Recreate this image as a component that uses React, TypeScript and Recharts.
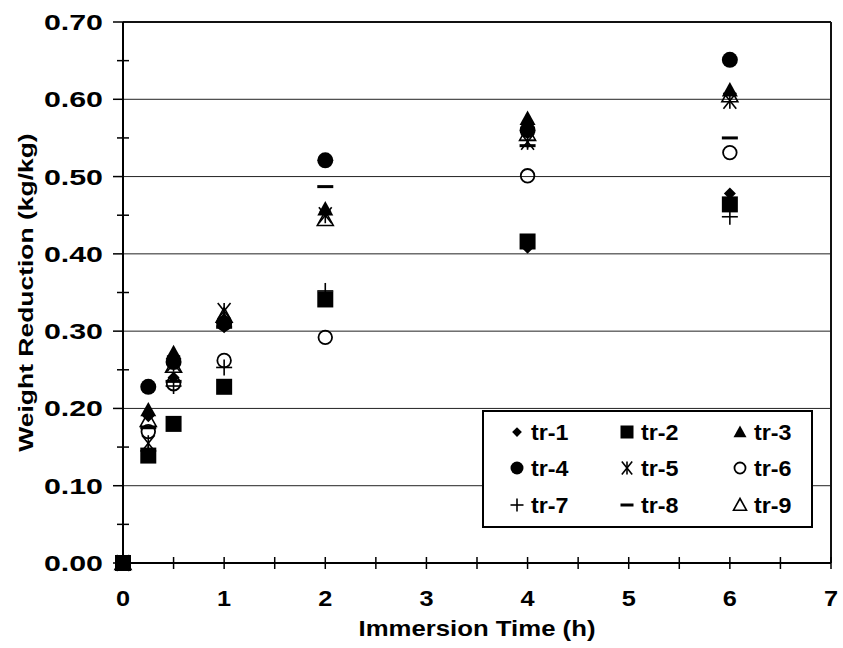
import React from "react";
import {
  ScatterChart,
  Scatter,
  XAxis,
  YAxis,
  CartesianGrid,
  ReferenceLine,
  Legend,
  Label,
} from "recharts";

// immersion times (h) and weight reduction (kg/kg) per trial
const hours = [0, 0.25, 0.5, 1, 2, 4, 6];
const tr1 = [0, 0.19, 0.24, 0.305, 0.455, 0.408, 0.478];
const tr2 = [0, 0.139, 0.18, 0.228, 0.341, 0.416, 0.464];
const tr3 = [0, 0.198, 0.272, 0.315, 0.458, 0.575, 0.612];
const tr4 = [0, 0.228, 0.26, 0.31, 0.521, 0.56, 0.651];
const tr5 = [0, 0.155, 0.258, 0.326, 0.45, 0.545, 0.598];
const tr6 = [0, 0.17, 0.232, 0.262, 0.292, 0.501, 0.531];
const tr7 = [0, 0.145, 0.229, 0.253, 0.352, 0.547, 0.448];
const tr8 = [0, 0.175, 0.235, 0.305, 0.487, 0.54, 0.55];
const tr9 = [0, 0.185, 0.255, 0.32, 0.445, 0.555, 0.605];

const xTicks = [0, 0.5, 1, 1.5, 2, 2.5, 3, 3.5, 4, 4.5, 5, 5.5, 6, 6.5, 7];
const yTicks = [0, 0.05, 0.1, 0.15, 0.2, 0.25, 0.3, 0.35, 0.4, 0.45, 0.5, 0.55, 0.6, 0.65, 0.7];
const gridLines = [0.1, 0.2, 0.3, 0.4, 0.5, 0.6];

type Kind =
  | "diamond"
  | "square"
  | "triangle"
  | "circle"
  | "star"
  | "ring"
  | "plus"
  | "dash"
  | "hollowTriangle";

const series: { name: string; values: number[]; kind: Kind }[] = [
  { name: "tr-1", values: tr1, kind: "diamond" },
  { name: "tr-2", values: tr2, kind: "square" },
  { name: "tr-3", values: tr3, kind: "triangle" },
  { name: "tr-4", values: tr4, kind: "circle" },
  { name: "tr-5", values: tr5, kind: "star" },
  { name: "tr-6", values: tr6, kind: "ring" },
  { name: "tr-7", values: tr7, kind: "plus" },
  { name: "tr-8", values: tr8, kind: "dash" },
  { name: "tr-9", values: tr9, kind: "hollowTriangle" },
];

const FONT = "'Liberation Sans', Arial, Helvetica, sans-serif";

// bold text, widened horizontally around its anchor point
function WideText({
  x,
  y,
  sx,
  size,
  anchor = "start",
  rotate = 0,
  children,
}: {
  x: number;
  y: number;
  sx: number;
  size: number;
  anchor?: "start" | "middle" | "end";
  rotate?: number;
  children: React.ReactNode;
}) {
  return (
    <text
      transform={`translate(${x} ${y}) rotate(${rotate}) scale(${sx} 1)`}
      textAnchor={anchor}
      fontFamily={FONT}
      fontWeight="bold"
      fontSize={size}
      fill="#000"
    >
      {children}
    </text>
  );
}

function Marker({ kind, cx, cy, s }: { kind: Kind; cx: number; cy: number; s: number }) {
  switch (kind) {
    case "diamond":
      return (
        <polygon
          points={`${cx},${cy - s * 0.75} ${cx + s * 0.75},${cy} ${cx},${cy + s * 0.75} ${cx - s * 0.75},${cy}`}
          fill="#000"
        />
      );
    case "square":
      return <rect x={cx - s} y={cy - s} width={s * 2} height={s * 2} fill="#000" />;
    case "triangle":
      return (
        <polygon
          points={`${cx},${cy - s} ${cx + s},${cy + s * 0.8} ${cx - s},${cy + s * 0.8}`}
          fill="#000"
        />
      );
    case "circle":
      return <circle cx={cx} cy={cy} r={s} fill="#000" />;
    case "star":
      return (
        <g stroke="#000" strokeWidth={1.6}>
          <line x1={cx - s * 0.8} y1={cy - s} x2={cx + s * 0.8} y2={cy + s} />
          <line x1={cx - s * 0.8} y1={cy + s} x2={cx + s * 0.8} y2={cy - s} />
          <line x1={cx} y1={cy - s} x2={cx} y2={cy + s} />
        </g>
      );
    case "ring":
      return <circle cx={cx} cy={cy} r={s * 0.85} fill="none" stroke="#000" strokeWidth={1.8} />;
    case "plus":
      return (
        <g stroke="#000" strokeWidth={1.6}>
          <line x1={cx - s} y1={cy} x2={cx + s} y2={cy} />
          <line x1={cx} y1={cy - s} x2={cx} y2={cy + s} />
        </g>
      );
    case "dash":
      return <rect x={cx - s} y={cy - 1.5} width={s * 2} height={3} fill="#000" />;
    case "hollowTriangle":
      return (
        <polygon
          points={`${cx},${cy - s} ${cx + s},${cy + s * 0.8} ${cx - s},${cy + s * 0.8}`}
          fill="none"
          stroke="#000"
          strokeWidth={1.6}
        />
      );
  }
  return null;
}

const XTick = (props: any) => {
  const { x, y, payload } = props;
  const v = payload.value as number;
  return (
    <g>
      <line x1={x} y1={y - 6} x2={x} y2={y + 6} stroke="#000" strokeWidth={1.5} />
      {Number.isInteger(v) && (
        <WideText x={x} y={y + 43} sx={1.15} size={22} anchor="middle">
          {v}
        </WideText>
      )}
    </g>
  );
};

const YTick = (props: any) => {
  const { x, y, payload } = props;
  const v = payload.value as number;
  const major = Math.round(v * 100) % 10 === 0;
  return (
    <g>
      {major ? (
        <line x1={x - 10} y1={y} x2={x} y2={y} stroke="#000" strokeWidth={1.5} />
      ) : (
        <line x1={x - 6} y1={y} x2={x + 6} y2={y} stroke="#000" strokeWidth={1.5} />
      )}
      {major && (
        <WideText x={x - 20} y={y + 8} sx={1.38} size={22} anchor="end">
          {v.toFixed(2)}
        </WideText>
      )}
    </g>
  );
};

const renderLegend = () => {
  const colX = [35, 145, 258];
  const rowY = [22, 58, 95];
  return (
    <svg width={331} height={118} style={{ display: "block" }}>
      <rect x={1} y={1} width={329} height={116} fill="#fff" stroke="#000" strokeWidth={2} />
      {series.map((s, i) => {
        const cx = colX[i % 3];
        const cy = rowY[Math.floor(i / 3)];
        return (
          <g key={s.name}>
            <Marker kind={s.kind} cx={cx} cy={cy} s={6.5} />
            <WideText x={cx + 14} y={cy + 8} sx={1.06} size={22}>
              {s.name}
            </WideText>
          </g>
        );
      })}
    </svg>
  );
};

export default function App() {
  return (
    <div style={{ position: "absolute", left: 0, top: 0, width: 843, height: 648, background: "#fff" }}>
      <ScatterChart width={843} height={648} margin={{ top: 22, right: 12, bottom: 0, left: 0 }}>
        <CartesianGrid horizontalValues={gridLines} vertical={false} stroke="#222" strokeWidth={1} />
        <ReferenceLine y={0.7} stroke="#111" strokeWidth={2} />
        <ReferenceLine x={7} stroke="#111" strokeWidth={2} />
        <XAxis
          type="number"
          dataKey="x"
          domain={[0, 7]}
          ticks={xTicks}
          interval={0}
          tickLine={false}
          tickSize={0}
          tickMargin={0}
          tick={<XTick />}
          axisLine={{ stroke: "#000", strokeWidth: 2 }}
          height={85}
        >
          <Label
            content={({ viewBox }: any) => (
              <WideText x={viewBox.x + viewBox.width / 2} y={viewBox.y + 73} sx={1.12} size={23} anchor="middle">
                Immersion Time (h)
              </WideText>
            )}
          />
        </XAxis>
        <YAxis
          type="number"
          dataKey="y"
          domain={[0, 0.7]}
          ticks={yTicks}
          interval={0}
          tickLine={false}
          tickSize={0}
          tickMargin={0}
          tick={<YTick />}
          axisLine={{ stroke: "#000", strokeWidth: 2 }}
          width={123}
        >
          <Label
            content={({ viewBox }: any) => (
              <WideText x={33} y={viewBox.y + viewBox.height / 2} sx={1.26} size={21} anchor="middle" rotate={-90}>
                Weight Reduction (kg/kg)
              </WideText>
            )}
          />
        </YAxis>
        {series.map((s) => (
          <Scatter
            key={s.name}
            name={s.name}
            data={hours.map((h, i) => ({ x: h, y: s.values[i] }))}
            isAnimationActive={false}
            shape={(p: any) => <Marker kind={s.kind} cx={p.cx} cy={p.cy} s={8} />}
          />
        ))}
        <Legend
          layout="horizontal"
          verticalAlign="middle"
          align="center"
          content={renderLegend}
          wrapperStyle={{ position: "absolute", left: 482, top: 410, width: 331, height: 118 }}
        />
      </ScatterChart>
    </div>
  );
}
